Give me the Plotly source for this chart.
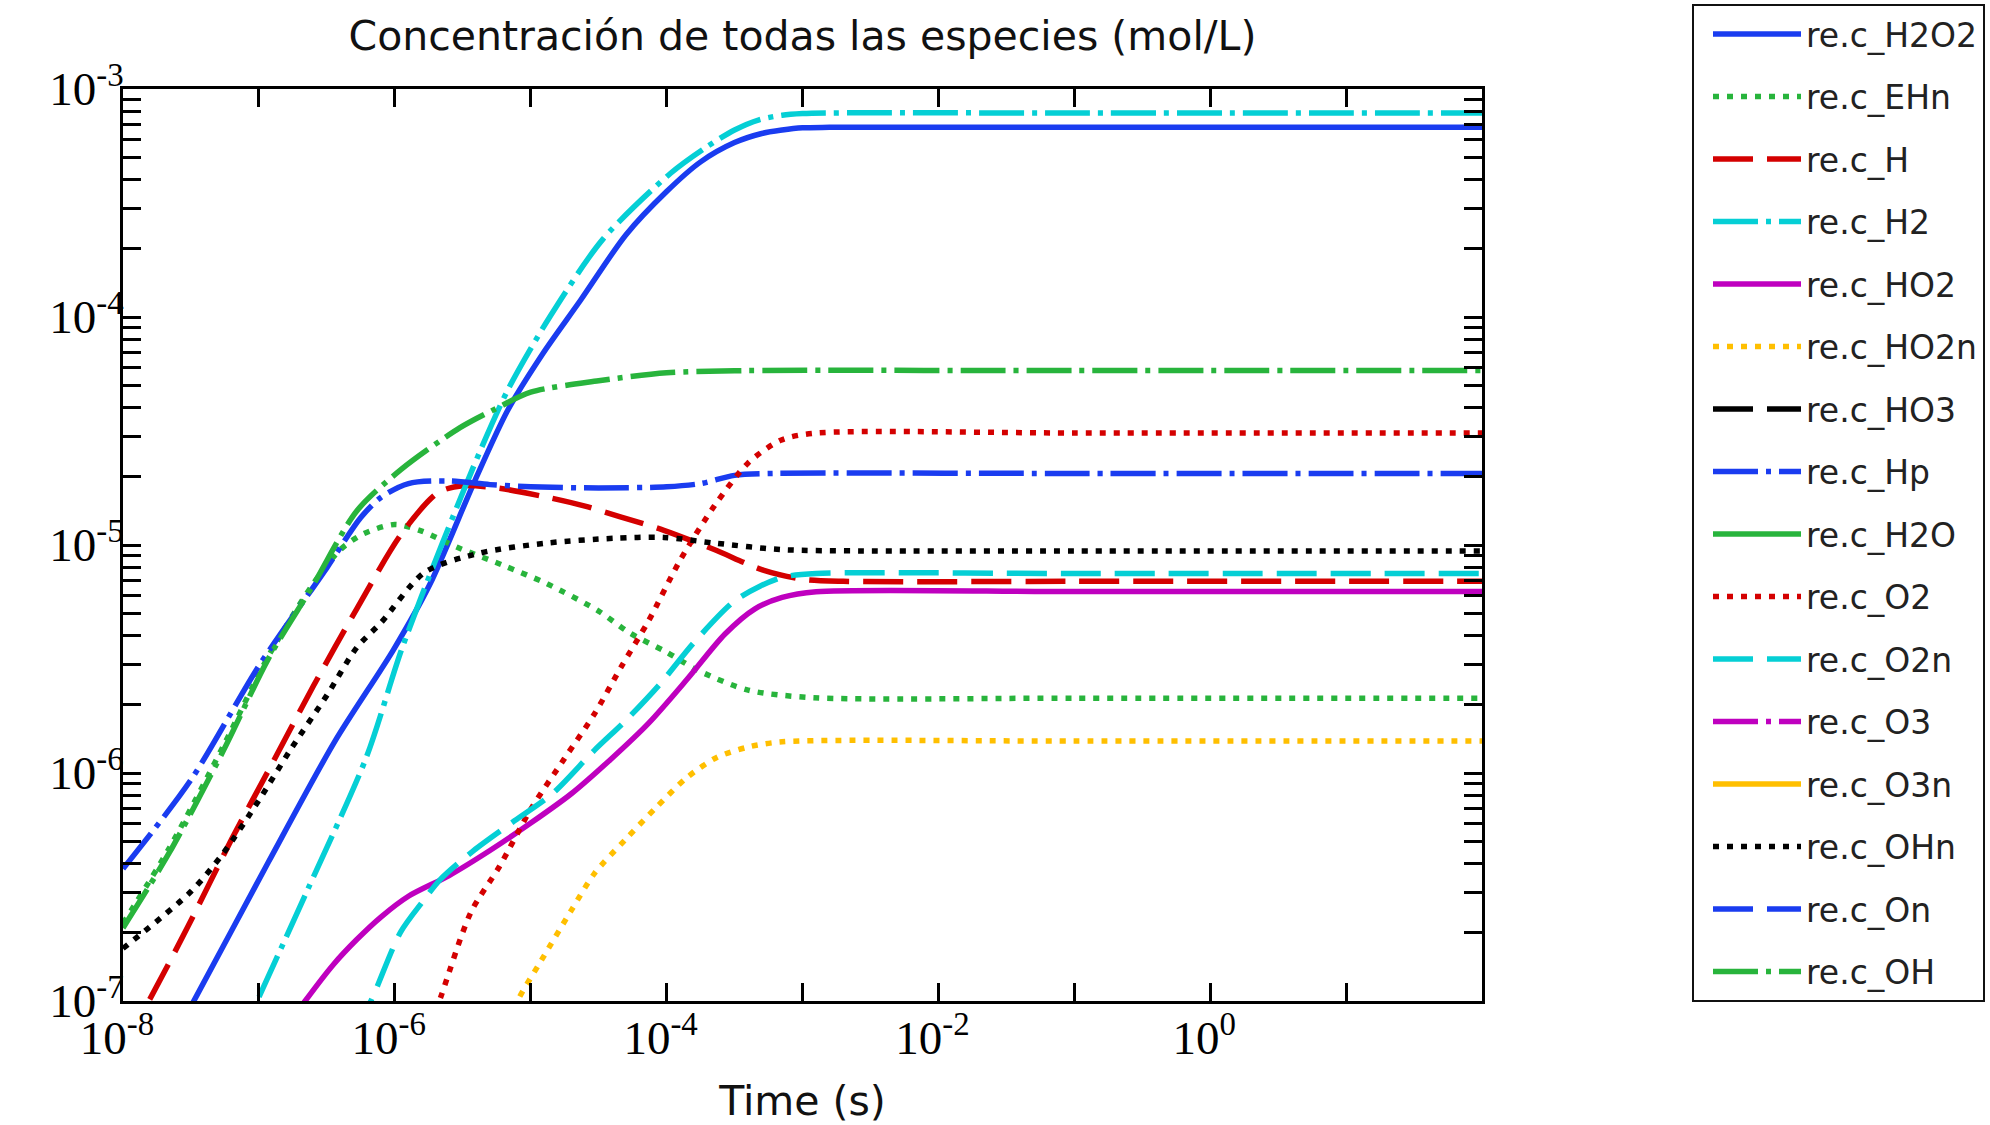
import plotly.graph_objects as go

# ---------------- data (time in s, concentration in mol/L) -------------
t_H2O2 = [1e-8, 3.47e-8, 1.175e-7, 3.63e-7, 9.77e-7, 1.82e-6, 3.80e-6, 6.76e-6, 1.23e-5,
          2.34e-5, 5.01e-5, 1e-4, 1.78e-4, 3.16e-4, 5.01e-4, 7.08e-4, 1e-3, 1.58e-3, 1e-1, 100]
c_H2O2 = [2.7e-8, 1.05e-7, 4.07e-7, 1.38e-6, 3.47e-6, 6.76e-6, 1.86e-5, 3.89e-5, 6.92e-5,
          1.19e-4, 2.29e-4, 3.55e-4, 4.79e-4, 5.82e-4, 6.38e-4, 6.61e-4, 6.76e-4, 6.79e-4,
          6.8e-4, 6.8e-4]

t_EHn = [1e-8, 2.19e-8, 5.50e-8, 1.17e-7, 2.51e-7, 3.98e-7, 5.89e-7, 1e-6, 1.58e-6, 2.88e-6,
         6.31e-6, 1.32e-5, 3.16e-5, 5.37e-5, 1e-4, 1.70e-4, 3.98e-4, 1.20e-3, 1e-1, 100]
c_EHn = [2.19e-7, 4.68e-7, 1.32e-6, 3.24e-6, 6.76e-6, 9.55e-6, 1.12e-5, 1.23e-5, 1.15e-5, 9.77e-6,
         8.13e-6, 6.76e-6, 5.13e-6, 4.11e-6, 3.39e-6, 2.82e-6, 2.31e-6, 2.14e-6, 2.13e-6, 2.13e-6]

t_H = [1e-8, 1.62e-8, 2.99e-8, 6.31e-8, 1.17e-7, 2.51e-7, 5.25e-7, 1.12e-6, 2.09e-6, 3.16e-6,
       5.62e-6, 1.32e-5, 2.51e-5, 4.57e-5, 9.55e-5, 2.24e-4, 5.13e-4, 1e-3, 2e-3, 1e-1, 100]
c_H = [6.3e-8, 1.05e-7, 2.11e-7, 5.13e-7, 1.02e-6, 2.40e-6, 5.25e-6, 1.12e-5, 1.70e-5, 1.82e-5,
       1.78e-5, 1.62e-5, 1.48e-5, 1.33e-5, 1.16e-5, 9.55e-6, 7.76e-6, 7.08e-6, 6.93e-6, 6.93e-6,
       6.93e-6]

t_H2 = [1e-8, 1.08e-7, 2.29e-7, 6.17e-7, 1.12e-6, 2.24e-6, 4.37e-6, 6.92e-6, 1.38e-5, 3.39e-5,
        1.07e-4, 1.91e-4, 3.16e-4, 4.79e-4, 7.08e-4, 1e-3, 1.58e-3, 1e-1, 100]
c_H2 = [5e-9, 1.15e-7, 3.09e-7, 1.17e-6, 3.47e-6, 1.02e-5, 2.69e-5, 4.90e-5, 1.0e-4, 2.19e-4,
        4.27e-4, 5.50e-4, 6.61e-4, 7.33e-4, 7.67e-4, 7.80e-4, 7.85e-4, 7.85e-4, 7.85e-4]

t_HO2 = [1.58e-7, 2.19e-7, 3.55e-7, 5.25e-7, 7.94e-7, 1.26e-6, 2.51e-6, 5.01e-6, 1e-5, 2.0e-5,
         3.89e-5, 7.41e-5, 1.41e-4, 2.69e-4, 4.47e-4, 7.08e-4, 1.26e-3, 1e-1, 100]
c_HO2 = [7.6e-8, 1e-7, 1.45e-7, 1.86e-7, 2.34e-7, 2.88e-7, 3.55e-7, 4.57e-7, 6.03e-7, 8.13e-7,
         1.15e-6, 1.66e-6, 2.57e-6, 4.07e-6, 5.25e-6, 5.89e-6, 6.24e-6, 6.25e-6, 6.25e-6]

t_HO2n = [6.31e-6, 8.13e-6, 1.20e-5, 2.0e-5, 2.95e-5, 5.01e-5, 8.41e-5, 1.41e-4, 2.34e-4,
          3.98e-4, 7.08e-4, 1e-1, 100]
c_HO2n = [7.1e-8, 1.02e-7, 1.51e-7, 2.51e-7, 3.63e-7, 5.13e-7, 7.08e-7, 9.55e-7, 1.17e-6,
          1.30e-6, 1.37e-6, 1.38e-6, 1.38e-6]

t_HO3 = [1e-8, 1e-6, 1e-4, 1e-3, 100]
c_HO3 = [1e-11, 1e-9, 3e-8, 4e-8, 4e-8]

t_Hp = [1e-8, 3.16e-8, 1e-7, 3.16e-7, 5.62e-7, 7.94e-7, 1.26e-6, 2.51e-6, 5.01e-6, 1e-5,
        3.16e-5, 1e-4, 1.78e-4, 3.16e-4, 6.31e-4, 1e-1, 100]
c_Hp = [3.80e-7, 9.33e-7, 2.95e-6, 7.94e-6, 1.32e-5, 1.62e-5, 1.86e-5, 1.91e-5, 1.84e-5, 1.80e-5,
        1.78e-5, 1.80e-5, 1.86e-5, 2.02e-5, 2.06e-5, 2.06e-5, 2.06e-5]

t_H2O = [1e-8, 100]
c_H2O = [55.5, 55.5]

t_O2 = [1.58e-6, 2.19e-6, 3.63e-6, 5.89e-6, 1.01e-5, 1.76e-5, 2.95e-5, 4.68e-5, 7.41e-5,
        1.26e-4, 2.24e-4, 3.98e-4, 6.92e-4, 1.20e-3, 1e-1, 100]
c_O2 = [6.03e-8, 1.05e-7, 2.45e-7, 3.89e-7, 7.0e-7, 1.15e-6, 1.82e-6, 2.95e-6, 4.68e-6,
        8.59e-6, 1.48e-5, 2.29e-5, 2.88e-5, 3.09e-5, 3.10e-5, 3.10e-5]

t_O2n = [5.01e-7, 6.92e-7, 1.10e-6, 1.62e-6, 2.14e-6, 3.80e-6, 7.59e-6, 1.45e-5, 2.95e-5,
         5.01e-5, 8.91e-5, 1.58e-4, 3.09e-4, 4.90e-4, 7.24e-4, 1.26e-3, 1e-1, 100]
c_O2n = [7.1e-8, 1.05e-7, 2.0e-7, 2.75e-7, 3.39e-7, 4.57e-7, 6.17e-7, 8.13e-7, 1.26e-6,
         1.70e-6, 2.45e-6, 3.72e-6, 5.62e-6, 6.61e-6, 7.24e-6, 7.50e-6, 7.50e-6, 7.50e-6]

t_O3 = [1e-8, 1e-6, 1e-4, 1e-3, 100]
c_O3 = [1e-12, 2e-10, 2e-8, 3e-8, 3e-8]

t_O3n = [1e-8, 1e-6, 1e-4, 1e-3, 100]
c_O3n = [1e-13, 1e-11, 5e-9, 8e-9, 8e-9]

t_OHn = [1e-8, 3.16e-8, 5.50e-8, 1e-7, 1.70e-7, 3.16e-7, 5.25e-7, 7.94e-7, 1.66e-6, 4.27e-6,
         1.32e-5, 4.07e-5, 9.55e-5, 2.24e-4, 6.92e-4, 2.82e-3, 1e-1, 100]
c_OHn = [1.70e-7, 3.02e-7, 4.47e-7, 7.59e-7, 1.26e-6, 2.19e-6, 3.55e-6, 4.57e-6, 7.59e-6, 9.23e-6,
         1.02e-5, 1.07e-5, 1.08e-5, 1.02e-5, 9.55e-6, 9.42e-6, 9.42e-6, 9.42e-6]

t_On = [1e-8, 1e-6, 1e-4, 1e-3, 100]
c_On = [1e-10, 5e-9, 2e-8, 1.5e-8, 1.5e-8]

t_OH = [1e-8, 2.19e-8, 5.50e-8, 1.17e-7, 2.51e-7, 5.25e-7, 1.12e-6, 3.02e-6, 5.62e-6, 1e-5,
        3.16e-5, 1e-4, 3.16e-4, 1e-1, 100]
c_OH = [2.09e-7, 4.47e-7, 1.26e-6, 3.16e-6, 6.68e-6, 1.41e-5, 2.15e-5, 3.27e-5, 3.98e-5, 4.68e-5,
        5.25e-5, 5.69e-5, 5.81e-5, 5.82e-5, 5.82e-5]

names = ["re.c_H2O2", "re.c_EHn", "re.c_H", "re.c_H2", "re.c_HO2", "re.c_HO2n", "re.c_HO3",
         "re.c_Hp", "re.c_H2O", "re.c_O2", "re.c_O2n", "re.c_O3", "re.c_O3n", "re.c_OHn",
         "re.c_On", "re.c_OH"]
series = [(t_H2O2, c_H2O2), (t_EHn, c_EHn), (t_H, c_H), (t_H2, c_H2), (t_HO2, c_HO2),
          (t_HO2n, c_HO2n), (t_HO3, c_HO3), (t_Hp, c_Hp), (t_H2O, c_H2O), (t_O2, c_O2),
          (t_O2n, c_O2n), (t_O3, c_O3), (t_O3n, c_O3n), (t_OHn, c_OHn), (t_On, c_On),
          (t_OH, c_OH)]

x_tick_vals = [1e-8, 1e-6, 1e-4, 1e-2, 1e0]
x_tick_text = ["10<sup>-8</sup>", "10<sup>-6</sup>", "10<sup>-4</sup>", "10<sup>-2</sup>",
               "10<sup>0</sup>"]
x_minor_vals = [1e-7, 1e-5, 1e-3, 1e-1, 1e1]
y_tick_vals = [1e-7, 1e-6, 1e-5, 1e-4, 1e-3]
y_tick_text = ["10<sup>-7</sup>", "10<sup>-6</sup>", "10<sup>-5</sup>", "10<sup>-4</sup>",
               "10<sup>-3</sup>"]

# ---------------- styles ----------------
BLUE, GREEN, RED, CYAN = "#1a3cf0", "#28b43c", "#d40000", "#05cfd5"
MAGENTA, YELLOW, BLACK = "#bf00bf", "#ffbf00", "#000000"
colors = [BLUE, GREEN, RED, CYAN, MAGENTA, YELLOW, BLACK, BLUE,
          GREEN, RED, CYAN, MAGENTA, YELLOW, BLACK, BLUE, GREEN]
SOLID, DOT, DASH, DASHDOT = "solid", "6px,8px", "40px,14px", "45px,8px,5px,8px"
dashes = [SOLID, DOT, DASH, DASHDOT] * 4

fig = go.Figure()
for i, (name, (t, c)) in enumerate(zip(names, series)):
    fig.add_trace(go.Scatter(
        x=t, y=c, name=name, mode="lines", legendgroup=name,
        line=dict(color=colors[i], width=5.5, dash=dashes[i], shape="spline", smoothing=0.8),
    ))

minor_y = [k * 10.0 ** e for e in range(-7, -3) for k in range(2, 10)]

fig.update_layout(
    width=1990, height=1125,
    margin=dict(l=123, r=508, t=89, b=124, autoexpand=False),
    paper_bgcolor="white", plot_bgcolor="white",
    title=dict(text="Concentración de todas las especies (mol/L)",
               font=dict(family="DejaVu Sans", size=41, color="#111111"),
               x=0.5, xref="paper", xanchor="center",
               y=1 - 36 / 1125, yref="container", yanchor="middle"),
    showlegend=True,
    legend=dict(x=(1692 - 123) / 1359, xanchor="left", y=(1001 - 4) / 912, yanchor="top",
                bgcolor="white", bordercolor="#111111", borderwidth=2,
                font=dict(family="DejaVu Sans", size=33, color="#222222"),
                itemwidth=88, tracegroupgap=16.6, traceorder="grouped",
                maxheight=1, indentation=14),
    xaxis=dict(type="log", range=[-8, 2], showline=True, linecolor="black", linewidth=3,
               mirror="ticks", ticks="inside", ticklen=18, tickwidth=3, tickcolor="black",
               tickmode="array", tickvals=x_tick_vals, ticktext=x_tick_text,
               ticklabelstandoff=-6, ticklabelshift=-6,
               tickfont=dict(family="Liberation Serif", size=47, color="black"),
               minor=dict(ticks="inside", ticklen=18, tickwidth=3, tickcolor="black",
                          tickmode="array", tickvals=x_minor_vals, showgrid=False),
               showgrid=False, zeroline=False,
               title=dict(text="Time (s)", standoff=25,
                          font=dict(family="DejaVu Sans", size=41, color="#111111"))),
    yaxis=dict(type="log", range=[-7, -3], showline=True, linecolor="black", linewidth=3,
               mirror="ticks", ticks="inside", ticklen=18, tickwidth=3, tickcolor="black",
               tickmode="array", tickvals=y_tick_vals, ticktext=y_tick_text,
               ticklabelstandoff=-13,
               tickfont=dict(family="Liberation Serif", size=47, color="black"),
               minor=dict(ticks="inside", ticklen=18, tickwidth=3, tickcolor="black",
                          tickmode="array", tickvals=minor_y, showgrid=False),
               showgrid=False, zeroline=False),
)

fig.write_html("out.html")
